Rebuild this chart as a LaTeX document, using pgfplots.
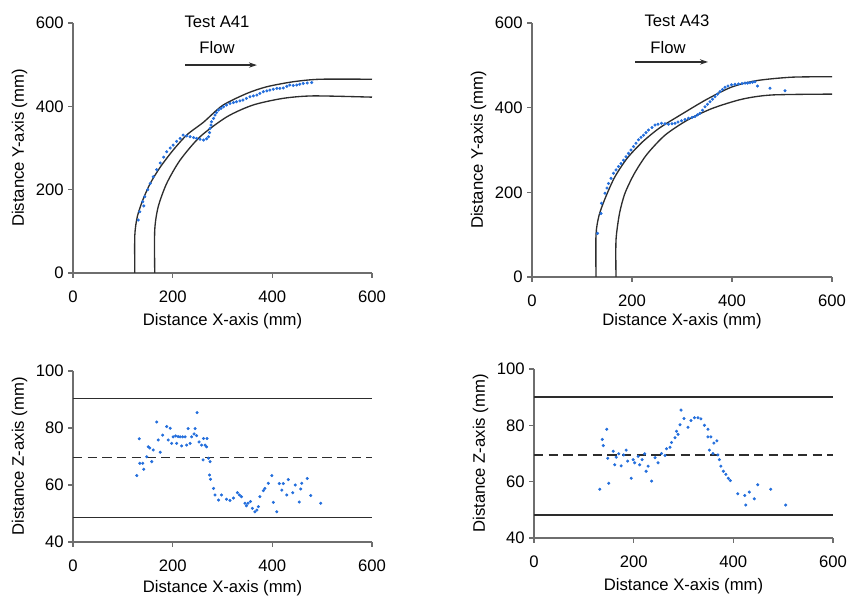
\documentclass[border=0pt]{standalone}
\usepackage{fontspec}
\setmainfont{Liberation Sans}
\usepackage{pgfplots}
\pgfplotsset{compat=1.18}
\usetikzlibrary{arrows.meta}
\definecolor{dotblue}{RGB}{35,110,220}
\definecolor{axgray}{RGB}{110,110,110}
\definecolor{wall}{RGB}{45,45,45}
\newcommand{\lbl}{\fontsize{12.5}{14}\selectfont}
\pgfplotsset{
 panel/.style={
  scale only axis, anchor=south west, clip=false,
  axis x line=bottom, axis y line=left,
  axis line style={-, draw=axgray, line width=0.8pt},
  tick align=outside, major tick length=3.5pt,
  tick style={axgray, line width=0.8pt},
  xmin=0, xmax=600, xtick={0,200,400,600},
  /pgf/number format/assume math mode=true,
  tick label style={font=\lbl},
  xticklabel style={yshift=-6.5pt},
  xlabel={Distance X-axis (mm)},
  xlabshift/.initial=-34.5pt,
  every axis x label/.style={at={([yshift=\pgfkeysvalueof{/pgfplots/xlabshift}]axis description cs:0.5,0)}, anchor=center, font=\lbl},
  every axis y label/.style={at={([xshift=-40pt]axis description cs:0,0.5)}, anchor=center, rotate=90, font=\lbl},
 },
 dots/.style={only marks, mark=*, mark size=0.95pt, color=dotblue},
 wallline/.style={wall, line width=1pt, smooth, tension=0.45, no markers},
}
\begin{document}
\begin{tikzpicture}
\useasboundingbox (0,0) rectangle (637.5pt,448.5pt);

% ---------------- Top left: Test A41 plan ----------------
\begin{axis}[panel, xlabshift=-36.5pt, at={(54.75pt,243.75pt)}, width=224.25pt, height=187.5pt,
  ymin=0, ymax=600, ytick={0,200,400,600}, ylabel={Distance Y-axis (mm)}]
\addplot[wallline] coordinates {(124,0) (124,90) (129,135) (140,175) (155,215) (175,254) (201,295) (229,332) (262,362) (300,402) (349,431) (389,447) (442,459) (496,465) (600,465)};
\addplot[wallline] coordinates {(164,0) (164,103) (171,159) (188,215) (215,271) (255,327) (309,375) (361,403) (421,419) (482,425) (600,422)};
\addplot[dots] table {
131 127
134 147
140 171
144 183
142 161
150 200
155 215
161 231
168 248
175 264
182 278
188 291
195 300
201 307
208 316
215 323
221 331
228 329
235 327
242 325
248 323
255 321
262 319
268 322
272 327
274 337
275 347
277 355
278 363
282 371
285 379
288 385
292 391
297 395
302 399
308 403
315 407
322 409
328 411
335 413
341 415
348 419
355 423
362 425
369 427
375 431
382 435
389 437
395 439
402 441
409 443
415 443
422 444
429 448
435 451
442 450
449 451
455 453
462 455
470 456
479 457
};
\node[font=\lbl] at (axis cs:289,602) {Test A41};
\node[font=\lbl] at (axis cs:289,540) {Flow};
\draw[-{Stealth[length=6pt,width=4pt]}, line width=0.9pt, wall] (axis cs:225,499) -- (axis cs:369,499);
\end{axis}

% ---------------- Top right: Test A43 plan ----------------
\begin{axis}[panel, xlabshift=-33pt, at={(399pt,240.75pt)}, width=225pt, height=190.5pt,
  ymin=0, ymax=600, ytick={0,200,400,600}, ylabel={Distance Y-axis (mm)}]
\addplot[wallline] coordinates {(128,0) (128,100) (134,145) (146,185) (165,235) (190,280) (220,318) (255,352) (300,385) (350,420) (400,449) (450,464) (520,472) (600,473)};
\addplot[wallline] coordinates {(168,0) (168,87) (175,150) (186,198) (205,245) (230,290) (266,335) (310,370) (360,398) (420,420) (480,430) (600,432)};
\addplot[dots] table {
131 103
138 150
139 174
146 198
150 210
153 221
158 233
163 245
168 253
173 261
178 268
183 276
188 284
193 292
198 300
203 308
208 316
213 324
218 330
223 335
228 341
233 347
240 353
246 359
252 361
259 363
266 362
273 361
280 362
286 363
292 366
299 369
306 372
313 375
320 377
326 379
331 383
336 387
341 394
346 402
351 408
356 414
361 420
366 426
371 432
376 438
381 443
386 448
392 451
399 454
406 455
413 456
420 457
426 458
431 458
436 459
441 460
446 461
451 451
476 446
506 440
};
\node[font=\lbl] at (axis cs:290,605) {Test A43};
\node[font=\lbl] at (axis cs:272,541) {Flow};
\draw[-{Stealth[length=6pt,width=4pt]}, line width=0.9pt, wall] (axis cs:206,508) -- (axis cs:352,508);
\end{axis}

% ---------------- Bottom left: A41 elevation ----------------
\begin{axis}[panel, xlabshift=-34.5pt, at={(54.75pt,42pt)}, width=224.25pt, height=128.25pt,
  ymin=40, ymax=100, ytick={40,60,80,100}, ylabel={Distance Z-axis (mm)}]
\addplot[wall, line width=1pt] coordinates {(0,90.3) (600,90.3)};
\addplot[wall, line width=1pt] coordinates {(0,48.6) (600,48.6)};
\addplot[wall, line width=0.9pt, dashed, dash pattern=on 7pt off 4pt] coordinates {(0,69.7) (600,69.7)};
\addplot[dots] table {
128 63.3
133 76.2
134 67.6
140 67.6
142 65.5
148 69.9
151 73.4
154 73.0
158 68.2
161 72.3
168 82.1
171 75.8
175 71.5
180 77.5
188 80.5
191 75.8
195 79.9
198 74.6
201 76.9
206 77.2
208 74.6
211 77.0
215 76.9
218 73.7
220 76.9
225 76.9
228 74.0
231 79.8
235 74.6
238 76.9
243 77.9
245 79.8
248 77.3
249 85.4
253 75.1
258 74.0
261 68.8
262 76.3
265 74.0
268 73.4
269 76.3
272 69.4
274 63.5
275 68.2
276 62.0
282 58.8
285 56.5
292 54.7
298 56.5
308 55.0
315 54.6
322 55.4
330 57.3
334 56.5
338 55.9
345 53.6
348 52.7
351 53.6
356 54.2
360 51.8
365 50.6
369 51.2
372 52.4
375 55.9
382 58.0
385 58.8
392 60.6
399 63.3
402 53.9
409 50.6
414 60.5
419 58.2
422 60.5
429 56.5
432 61.9
441 57.3
446 60.0
454 54.0
457 58.6
459 60.6
470 62.3
477 56.3
497 53.6
};
\end{axis}

% ---------------- Bottom right: A43 elevation ----------------
\begin{axis}[panel, xlabshift=-36pt, at={(400.5pt,45pt)}, width=224.25pt, height=126.75pt,
  ymin=40, ymax=100, ytick={40,60,80,100}, ylabel={Distance Z-axis (mm)}]
\addplot[wall, line width=1pt] coordinates {(0,90) (600,90)};
\addplot[wall, line width=1pt] coordinates {(0,48.2) (600,48.2)};
\addplot[wall, line width=0.9pt, dashed, dash pattern=on 7pt off 4pt] coordinates {(0,69.5) (600,69.5)};
\addplot[dots] table {
132 57.3
137 75.0
139 72.8
146 78.6
148 68.3
150 59.4
159 70.8
162 66.0
165 68.7
170 69.9
175 65.6
180 69.5
185 71.2
188 67.3
195 61.2
199 67.8
202 66.7
209 69.0
212 66.0
217 67.8
222 69.9
225 63.7
229 65.5
236 60.2
243 68.5
249 66.7
256 70.0
263 69.3
266 71.7
273 72.2
276 73.9
283 75.6
286 77.9
289 76.8
293 80.2
295 85.4
301 82.4
309 79.3
315 81.7
322 82.7
329 82.7
335 82.3
342 80.0
349 78.6
349 75.9
352 71.2
355 75.9
359 70.0
361 73.7
367 74.5
369 69.5
372 67.8
375 65.5
380 63.7
385 62.6
390 61.2
394 60.4
409 55.7
423 55.1
425 51.7
432 56.3
442 53.9
449 58.9
475 57.3
505 51.7
};
\end{axis}
\end{tikzpicture}
\end{document}
